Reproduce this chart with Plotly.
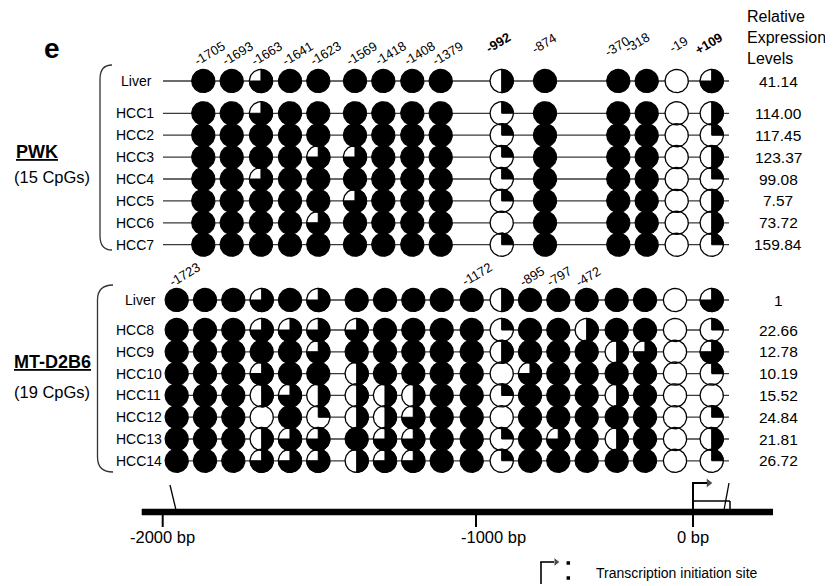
import math
import plotly.graph_objects as go

# ---------------- data ----------------
pwk_cpg_labels = ["-1705", "-1693", "-1663", "-1641", "-1623", "-1569", "-1418", "-1408",
                  "-1379", "-992", "-874", "-370", "-318", "-19", "+109"]
pwk_bold_labels = ["-992", "+109"]
pwk_samples = ["Liver", "HCC1", "HCC2", "HCC3", "HCC4", "HCC5", "HCC6", "HCC7"]
pwk_expression = ["41.14", "114.00", "117.45", "123.37", "99.08", "7.57", "73.72", "159.84"]

# methylated fraction of each CpG (1 = all methylated, 0 = unmethylated)
pwk_liver = [1, 1, 0.75, 1, 1, 1, 1, 1, 1, 0.5, 1, 1, 1, 0, 0.75]
pwk_hcc1 = [1, 1, 0.75, 1, 1, 1, 1, 1, 1, 0.25, 1, 1, 1, 0, 0.5]
pwk_hcc2 = [1, 1, 1, 1, 1, 1, 1, 1, 1, 0.25, 1, 1, 1, 0, 0.25]
pwk_hcc3 = [1, 1, 1, 1, 0.75, 0.75, 1, 1, 1, 0.25, 1, 1, 1, 0, 0.5]
pwk_hcc4 = [1, 1, 0.75, 1, 1, 1, 1, 1, 1, 0.25, 1, 1, 1, 0, 0.25]
pwk_hcc5 = [1, 1, 1, 1, 1, 0.75, 1, 1, 1, 0.25, 1, 1, 1, 0, 0.5]
pwk_hcc6 = [1, 1, 1, 1, 0.75, 1, 1, 1, 1, 0, 1, 1, 1, 0, 0.5]
pwk_hcc7 = [1, 1, 1, 1, 1, 1, 1, 1, 1, 0.25, 1, 1, 1, 0, 0.25]
pwk_methylation = [pwk_liver, pwk_hcc1, pwk_hcc2, pwk_hcc3, pwk_hcc4, pwk_hcc5, pwk_hcc6, pwk_hcc7]

mt_cpg_labels = ["-1723", "", "", "", "", "", "", "", "", "", "-1172", "", "-895", "-797",
                 "-472", "", "", "", ""]
mt_samples = ["Liver", "HCC8", "HCC9", "HCC10", "HCC11", "HCC12", "HCC13", "HCC14"]
mt_expression = ["1", "22.66", "12.78", "10.19", "15.52", "24.84", "21.81", "26.72"]

mt_liver = [1, 1, 1, 0.75, 1, 0.75, 1, 1, 1, 1, 1, 0.5, 1, 1, 1, 1, 1, 0, 0.75]
mt_hcc8 = [1, 1, 1, 0.75, 0.75, 0.75, 0.75, 1, 1, 1, 1, 0.25, 1, 1, 0.5, 1, 1, 0, 0.25]
mt_hcc9 = [1, 1, 1, 1, 1, 0.75, 1, 1, 1, 1, 1, 0.5, 1, 1, 1, 0.5, 0.75, 0, 0.75]
mt_hcc10 = [1, 1, 1, 0.75, 1, 1, 0.5, 1, 1, 1, 1, 0, 0.75, 1, 1, 1, 1, 0, 0.25]
mt_hcc11 = [1, 1, 1, 0.5, 0.75, 0.5, 0.5, 0.5, 0.5, 1, 1, 0.25, 1, 1, 1, 0.5, 1, 0, 0]
mt_hcc12 = [1, 1, 1, 0, 1, 0.25, 0.5, 0.5, 0.75, 1, 1, 0, 1, 1, 1, 1, 1, 0, 0.25]
mt_hcc13 = [1, 1, 1, 0.5, 0.75, 0.75, 1, 0.75, 0.75, 1, 1, 0.25, 1, 0.75, 1, 0.5, 1, 0, 0.5]
mt_hcc14 = [1, 1, 1, 0.75, 0.75, 0.75, 0.5, 0.75, 0.75, 1, 1, 0.25, 1, 1, 1, 1, 1, 0, 0.25]
mt_methylation = [mt_liver, mt_hcc8, mt_hcc9, mt_hcc10, mt_hcc11, mt_hcc12, mt_hcc13, mt_hcc14]

bp_tick_labels = ["-2000 bp", "-1000 bp", "0 bp"]

# ---------------- layout (positions / styles) ----------------
W, H = 833, 586
PAGE_MARGIN = 8          # default body margin of the html page
FONT = "Liberation Sans, Arial, Helvetica, sans-serif"
R = 11.6
COL_X_PWK = [203.3, 231.7, 261, 290, 318.3, 355, 383.3, 412.3, 440.7, 501.7, 545, 618.3,
             646.7, 676.7, 711.7]
COL_X_MT = [176.7, 205, 233.3, 261.7, 290, 318.3, 356.7, 385, 413.3, 441.7, 471.7, 501.7,
            530, 558.3, 586.7, 616.7, 645, 675, 711.7]
ROW_Y_PWK = [81, 113.3, 135.2, 157.1, 179, 200.9, 222.8, 244.7]
ROW_Y_MT = [300, 330, 351.8, 373.6, 395.4, 417.2, 439, 460.8]
LINE_X_PWK = (163, 729)
LINE_X_MT = (170, 729)
PWK_LAB_DX = [-6, -6, -6, -4, -5, -5, -5, -5, -5, -12, -10, -10, -18, -4, -13]
PWK_LAB_Y = [66, 66, 66, 66, 66, 66, 66, 66, 66, 53, 54, 57, 53, 53, 55]
MT_LAB_DX = [-4, 0, 0, 0, 0, 0, 0, 0, 0, 0, -7, 0, -7, -8, -7, 0, 0, 0, 0]
MT_LAB_Y = 287
LAB_ANGLE = 31
LAB_FS = 13
BP_TICK_X = [162.7, 476, 693]
BP_LABEL_X = [162, 493, 693]

CHAR_W = {"-": 0.333, "+": 0.584, ".": 0.278}


def text_width(s, fs):
    return sum(CHAR_W.get(c, 0.556) for c in s) * fs


def circle_pts(cx, cy, r, frac, n=72):
    xs, ys = [], []
    if frac >= 1:
        for k in range(n + 1):
            t = 2 * math.pi * k / n
            xs.append(cx + r * math.sin(t))
            ys.append(cy - r * math.cos(t))
    else:
        m = max(2, int(round(n * frac)))
        xs.append(cx)
        ys.append(cy)
        for k in range(m + 1):
            t = 2 * math.pi * frac * k / m
            xs.append(cx + r * math.sin(t))
            ys.append(cy - r * math.cos(t))
        xs.append(cx)
        ys.append(cy)
    return xs, ys


fig = go.Figure()

line_x, line_y = [], []
white_x, white_y = [], []
black_x, black_y = [], []

for cols, rows, data, lx in [(COL_X_PWK, ROW_Y_PWK, pwk_methylation, LINE_X_PWK),
                             (COL_X_MT, ROW_Y_MT, mt_methylation, LINE_X_MT)]:
    for ry, row in zip(rows, data):
        line_x += [lx[0], lx[1], None]
        line_y += [ry, ry, None]
        for cx, f in zip(cols, row):
            if f < 1:
                xs, ys = circle_pts(cx, ry, R, 1)
                white_x += xs + [None]
                white_y += ys + [None]
            if f > 0:
                xs, ys = circle_pts(cx, ry, R, f)
                black_x += xs + [None]
                black_y += ys + [None]

fig.add_trace(go.Scatter(x=line_x, y=line_y, mode="lines",
                         line=dict(color="#3a3a3a", width=1.3), hoverinfo="skip"))
fig.add_trace(go.Scatter(x=white_x, y=white_y, mode="lines", fill="toself",
                         fillcolor="white", line=dict(color="black", width=1.3),
                         hoverinfo="skip"))
fig.add_trace(go.Scatter(x=black_x, y=black_y, mode="lines", fill="toself",
                         fillcolor="black", line=dict(color="black", width=1.1),
                         hoverinfo="skip"))

ann = []


def add_text(x, y, text, size, xanchor="center", yanchor="middle", angle=0, **font_kw):
    ann.append(dict(x=x, y=y, xref="x", yref="y", text=text, showarrow=False,
                    xanchor=xanchor, yanchor=yanchor, textangle=-angle,
                    font=dict(family=FONT, size=size, color="black", **font_kw)))


def cpg_label(xbl, ybl, text, fs, bold):
    a = math.radians(LAB_ANGLE)
    L = text_width(text, fs)
    h = 0.72 * fs
    ccx = xbl + L / 2 * math.cos(a) - h / 2 * math.sin(a)
    ccy = ybl - L / 2 * math.sin(a) - h / 2 * math.cos(a)
    add_text(ccx, ccy, "<b>%s</b>" % text if bold else text, fs, angle=LAB_ANGLE)


for cx, lab, dx, yb in zip(COL_X_PWK, pwk_cpg_labels, PWK_LAB_DX, PWK_LAB_Y):
    cpg_label(cx + dx, yb, lab, LAB_FS, lab in pwk_bold_labels)
for cx, lab, dx in zip(COL_X_MT, mt_cpg_labels, MT_LAB_DX):
    if lab:
        cpg_label(cx + dx, MT_LAB_Y, lab, LAB_FS, False)

for rows, samples, expr, liver_x in [(ROW_Y_PWK, pwk_samples, pwk_expression, 119),
                                     (ROW_Y_MT, mt_samples, mt_expression, 123)]:
    for i, (ry, s, e) in enumerate(zip(rows, samples, expr)):
        add_text(liver_x if i == 0 else 114, ry, s, 14, xanchor="left")
        add_text(778, ry, e, 15.5)

for y, t in zip([16.5, 37.5, 58.5], ["Relative", "Expression", "Levels"]):
    add_text(745, y, t, 16, xanchor="left")

add_text(51.5, 48, "<b>e</b>", 28)
add_text(14, 151.5, "<b>PWK</b>", 18, xanchor="left", lineposition="under")
add_text(12, 177, "(15 CpGs)", 16.5, xanchor="left")
add_text(12, 361.5, "<b>MT-D2B6</b>", 18, xanchor="left", lineposition="under")
add_text(12, 391.5, "(19 CpGs)", 16.5, xanchor="left")

for x, t in zip(BP_LABEL_X, bp_tick_labels):
    add_text(x, 537, t, 16.5)
add_text(594, 572.5, "Transcription initiation site", 14, xanchor="left")

shapes = []


def seg(x0, y0, x1, y1, w=1.3, color="black"):
    shapes.append(dict(type="line", xref="x", yref="y", x0=x0, y0=y0, x1=x1, y1=y1,
                       line=dict(color=color, width=w)))


shapes.append(dict(type="path", xref="x", yref="y",
                   path="M 112,65 Q 100,65 100,79 L 100,236 Q 100,250 112,250",
                   line=dict(color="#333", width=1.3)))
shapes.append(dict(type="path", xref="x", yref="y",
                   path="M 113,285 Q 97.5,285 97.5,300 L 97.5,457 Q 97.5,472 113,472",
                   line=dict(color="#333", width=1.3)))

seg(693, 501, 730, 501, 1.5)
seg(730, 501, 730, 512, 1.5)
seg(141.7, 512, 773, 512, 6.5)
for x in BP_TICK_X:
    seg(x, 512, x, 527, 2)
seg(170, 485, 176, 510, 1.3)
seg(729, 483, 724, 510, 1.3)
seg(693, 512, 693, 483, 2)
seg(692, 483, 707, 483, 2)
seg(541, 584, 541, 562, 1.6)
seg(540.2, 562, 554, 562, 1.6)

fig.add_trace(go.Scatter(x=[708.5, 556], y=[483, 562], mode="markers",
                         marker=dict(symbol="triangle-right", size=[9, 8], color="black"),
                         hoverinfo="skip"))
fig.add_trace(go.Scatter(x=[568.3, 568.3], y=[563, 578], mode="markers",
                         marker=dict(symbol="square", size=3.5, color="black"),
                         hoverinfo="skip"))

# the page puts the plot 8px in from the top-left corner; shrink the figure by that
# margin and start the ranges there so the drawing lines up with the window
fig.update_layout(
    width=W - PAGE_MARGIN, height=H - PAGE_MARGIN, margin=dict(l=0, r=0, t=0, b=0),
    autosize=False, paper_bgcolor="white", plot_bgcolor="white", showlegend=False,
    xaxis=dict(range=[PAGE_MARGIN, W], visible=False, fixedrange=True),
    yaxis=dict(range=[H, PAGE_MARGIN], visible=False, fixedrange=True),
    annotations=ann, shapes=shapes,
)

fig.write_html("out.html")
